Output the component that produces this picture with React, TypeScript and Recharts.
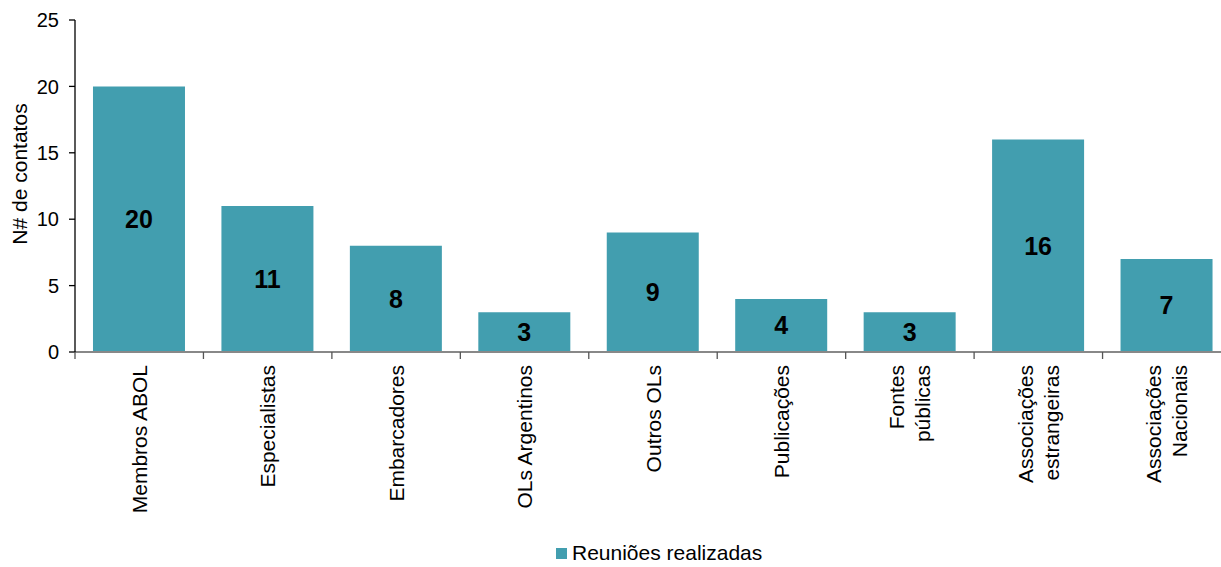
import { BarChart, Bar, XAxis, YAxis, Legend, LabelList } from "recharts";

const categories = [
  "Membros ABOL",
  "Especialistas",
  "Embarcadores",
  "OLs Argentinos",
  "Outros OLs",
  "Publicações",
  "Fontes\npúblicas",
  "Associações\nestrangeiras",
  "Associações\nNacionais",
];
const reunioes = [20, 11, 8, 3, 9, 4, 3, 16, 7];
const yTicks = [0, 5, 10, 15, 20, 25];

const seriesName = "Reuniões realizadas";
const yTitle = "N# de contatos";

const data = categories.map((name, i) => ({ name, reunioes: reunioes[i] }));

const CHART_W = 1240;
const CHART_H = 567;
const MARGIN = { top: 20, right: 9, left: 0, bottom: 0 };
const Y_W = 75;
const BAND = (CHART_W - MARGIN.left - MARGIN.right - Y_W) / categories.length;
const FONT = "'Liberation Sans', Arial, sans-serif";
const BAR_COLOR = "#429EAF";

function CategoryTick(props: any) {
  const { x, y, payload } = props;
  const lines = String(payload.value).split("\n");
  const fs = 21;
  const lh = 26;
  return (
    <g transform={`translate(${x},${y})`}>
      <line x1={-BAND / 2} y1={0} x2={-BAND / 2} y2={7} stroke="#555" strokeWidth={1.3} />
      <text transform="rotate(-90)" textAnchor="end" fontSize={fs} fontFamily={FONT} fill="#000">
        {lines.map((ln, i) => (
          <tspan key={i} x={-13} y={(i - (lines.length - 1) / 2) * lh + fs * 0.36}>
            {ln}
          </tspan>
        ))}
      </text>
    </g>
  );
}

function LegendBox() {
  return (
    <div style={{ display: "flex", alignItems: "center", fontFamily: FONT, fontSize: 21, color: "#000" }}>
      <span style={{ width: 11, height: 11, background: BAR_COLOR, display: "inline-block", marginRight: 5 }} />
      <span>{seriesName}</span>
    </div>
  );
}

export default function App() {
  return (
    <div style={{ position: "absolute", left: 0, top: 0, width: 1221, height: 567, overflow: "hidden", background: "#fff" }}>
      <BarChart width={CHART_W} height={CHART_H} data={data} margin={MARGIN} barCategoryGap="14%">
        <XAxis
          dataKey="name"
          interval={0}
          height={CHART_H - 352}
          tickSize={0}
          tickMargin={0}
          tick={<CategoryTick />}
          axisLine={{ stroke: "#888", strokeWidth: 2 }}
          tickLine={false}
        />
        <YAxis
          width={Y_W}
          domain={[0, 25]}
          ticks={yTicks}
          interval={0}
          tickSize={6}
          tickMargin={10}
          axisLine={{ stroke: "#000", strokeWidth: 1.3 }}
          tickLine={{ stroke: "#000", strokeWidth: 1.3 }}
          tick={{ fill: "#000", fontSize: 20, fontFamily: FONT }}
          label={() => (
            <text
              x={27}
              y={174}
              transform="rotate(-90 27 174)"
              textAnchor="middle"
              fontSize={21}
              fontFamily={FONT}
              fill="#000"
            >
              {yTitle}
            </text>
          )}
        />
        <Legend
          layout="horizontal"
          verticalAlign="middle"
          align="center"
          content={<LegendBox />}
          wrapperStyle={{ position: "absolute", left: 556, top: 541, width: 300 }}
        />
        <Bar dataKey="reunioes" name={seriesName} fill={BAR_COLOR} isAnimationActive={false}>
          <LabelList
            dataKey="reunioes"
            position="center"
            fill="#000"
            fontSize={25}
            fontWeight="bold"
            fontFamily={FONT}
          />
        </Bar>
      </BarChart>
    </div>
  );
}
